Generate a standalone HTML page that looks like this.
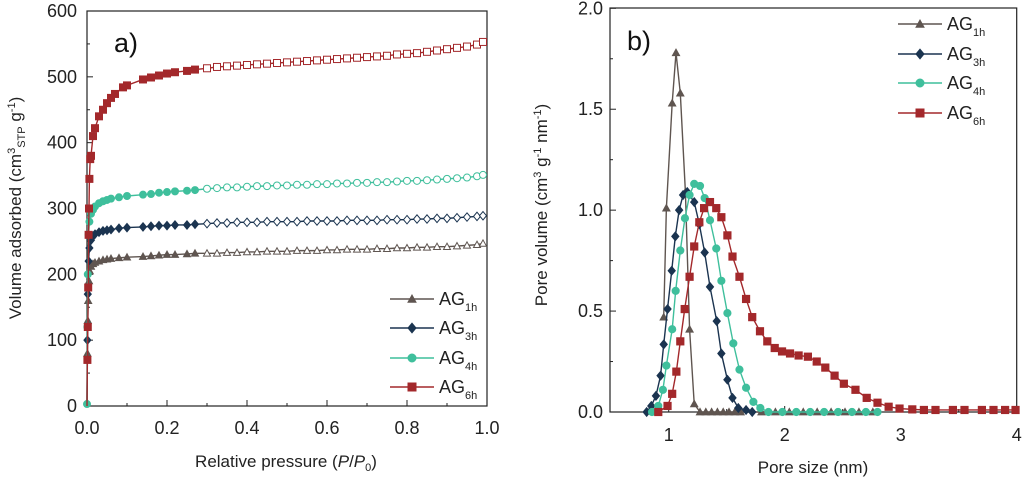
<!DOCTYPE html>
<html><head><meta charset="utf-8"><style>
html,body{margin:0;padding:0;background:#fff;}
svg{display:block;font-family:"Liberation Sans",sans-serif;}
</style></head><body>
<svg id="c" width="1024" height="479" viewBox="0 0 1024 479"></svg>
<script>
// ---- panel a data ----
const desP=[0.3,0.325,0.35,0.375,0.4,0.425,0.45,0.475,0.5,0.525,0.55,0.575,0.6,0.625,0.65,0.675,0.7,0.725,0.75,0.775,0.8,0.825,0.85,0.875,0.9,0.925,0.95,0.975,0.99];
const a1hAdsP=[0.001,0.002,0.003,0.005,0.007,0.01,0.015,0.02,0.03,0.04,0.05,0.06,0.08,0.1,0.14,0.16,0.18,0.2,0.22,0.25,0.27];
const a1hAdsV=[80,130,160,190,205,212,216,218,220,222,223,224,225,226,227,228,229,230,230,231,232];
const a1hDesV=[232,232,233,233,234,234,235,235,235,236,236,236,237,237,238,238,238,239,239,240,240,241,241,242,242,243,244,245,247];
const a3hAdsP=[0.001,0.002,0.004,0.006,0.01,0.015,0.02,0.03,0.04,0.05,0.06,0.08,0.1,0.14,0.16,0.18,0.2,0.22,0.25,0.27];
const a3hAdsV=[100,170,220,240,252,258,261,264,266,267,268,270,271,272,273,274,274,275,275,276];
const a3hDesV=[277,278,278,279,279,279,280,280,280,280,281,281,281,281,282,282,282,282,283,283,283,284,284,285,285,286,287,288,289];
const a4hAdsP=[0,0.001,0.002,0.004,0.006,0.01,0.015,0.02,0.03,0.04,0.05,0.06,0.08,0.1,0.14,0.16,0.18,0.2,0.22,0.25,0.27];
const a4hAdsV=[3,120,200,260,280,292,298,303,308,311,313,315,317,319,321,322,324,325,326,327,328];
const a4hDesV=[330,331,332,332,333,334,334,335,335,336,336,337,337,338,338,339,339,340,340,341,342,342,343,344,345,346,347,349,351];
const a6hAdsP=[0.001,0.002,0.003,0.004,0.005,0.006,0.008,0.01,0.015,0.02,0.03,0.04,0.05,0.06,0.07,0.09,0.1,0.14,0.16,0.18,0.2,0.22,0.25,0.27];
const a6hAdsV=[70,120,180,260,300,345,375,380,410,422,440,450,460,468,474,484,487,496,499,502,505,507,509,511];
const a6hDesV=[513,515,516,517,518,519,520,521,522,523,524,525,526,527,528,529,530,531,532,534,535,536,538,540,542,544,546,549,553];
const aXTicks=[0,0.2,0.4,0.6,0.8,1.0];
const aXLabels=["0.0","0.2","0.4","0.6","0.8","1.0"];
const aYTicks=[0,100,200,300,400,500,600];
// ---- panel b data ----
const b1hX=[0.957,0.98,1.03,1.063,1.10,1.144,1.18,1.22,1.27,1.32,1.37,1.42,1.47,1.52,1.57,1.62,1.8,1.92,2.04,2.16,2.28,2.4,2.52,2.64,2.76];
const b1hY=[0.47,1.01,1.53,1.78,1.58,1.09,0.41,0.04,0,0,0,0,0,0,0,0,0,0,0,0,0,0,0,0,0];
const b3hX=[0.81,0.85,0.89,0.93,0.957,0.99,1.026,1.057,1.09,1.124,1.16,1.22,1.264,1.31,1.356,1.414,1.454,1.506,1.55,1.60,1.667,1.72];
const b3hY=[0,0.03,0.08,0.18,0.335,0.51,0.70,0.87,1.00,1.075,1.09,1.04,0.93,0.79,0.62,0.45,0.29,0.16,0.07,0.02,0.01,0];
const b4hX=[0.856,0.91,0.95,0.98,1.03,1.06,1.10,1.14,1.18,1.22,1.27,1.31,1.356,1.41,1.454,1.506,1.557,1.61,1.667,1.73,1.79,1.86,1.98,2.1,2.22,2.34,2.46,2.58,2.7,2.8];
const b4hY=[0,0.03,0.11,0.23,0.41,0.60,0.80,0.96,1.075,1.13,1.12,1.06,0.95,0.81,0.65,0.49,0.34,0.21,0.12,0.05,0.02,0,0,0,0,0,0,0,0,0];
const b6hX=[0.91,0.99,1.03,1.066,1.10,1.138,1.18,1.22,1.264,1.305,1.356,1.41,1.454,1.506,1.55,1.61,1.667,1.72,1.787,1.85,1.914,1.977,2.046,2.12,2.2,2.276,2.35,2.43,2.51,2.61,2.707,2.8,2.896,2.99,3.1,3.2,3.3,3.45,3.55,3.7,3.8,3.9,3.99];
const b6hY=[0,0.03,0.09,0.20,0.35,0.51,0.67,0.82,0.94,1.01,1.04,1.01,0.965,0.875,0.77,0.67,0.56,0.47,0.40,0.35,0.317,0.30,0.29,0.28,0.274,0.25,0.22,0.18,0.14,0.11,0.07,0.046,0.026,0.017,0.013,0.01,0.01,0.01,0.01,0.01,0.01,0.01,0.01];
const bXTicks=[1,2,3,4];
const bYTicks=[0,0.5,1.0,1.5,2.0];
const bYLabels=["0.0","0.5","1.0","1.5","2.0"];
const C1="#5f5550",C3="#1b3450",C4="#3fbf9c",C6="#a3282b";

const NS="http://www.w3.org/2000/svg";
const svg=document.getElementById('c');
function el(tag,attrs,parent,text){const e=document.createElementNS(NS,tag);for(const k in attrs)e.setAttribute(k,attrs[k]);if(text!==undefined)e.textContent=text;(parent||svg).appendChild(e);return e;}

const ax=p=>87+p*400, ay=v=>406-v*(395/600);
const bx=d=>668.7+(d-1)*116, by=v=>412-v*(403.7/2);

function marker(g,shape,x,y,col,filled,s){
  const f=filled?col:"#fff"; let m;
  if(shape==="tri") m=el('polygon',{points:`${x},${y-s} ${x-s},${y+s*0.8} ${x+s},${y+s*0.8}`,fill:f,stroke:col,'stroke-width':1},g);
  else if(shape==="dia") m=el('polygon',{points:`${x},${y-s*1.2} ${x+s},${y} ${x},${y+s*1.2} ${x-s},${y}`,fill:f,stroke:col,'stroke-width':1},g);
  else if(shape==="cir") m=el('circle',{cx:x,cy:y,r:s,fill:f,stroke:col,'stroke-width':1},g);
  else m=el('rect',{x:x-s,y:y-s,width:2*s,height:2*s,fill:f,stroke:col,'stroke-width':1},g);
  
  
}

function frame(x0,y0,x1,y1,name){
  const r=el('rect',{x:x0,y:y0,width:x1-x0,height:y1-y0,fill:'none',stroke:'#222','stroke-width':1.2});
  
  
}

// ---------- Panel A ----------
frame(87,11,487,406,'plot-frame-a');
const gax=el('g',{});


aXTicks.forEach((t,i)=>{const x=ax(t);el('line',{x1:x,y1:406,x2:x,y2:400,stroke:'#222'},gax);
  if(i<aXTicks.length-1) el('line',{x1:ax(t+0.1),y1:406,x2:ax(t+0.1),y2:403,stroke:'#222'},gax);
  el('text',{x:x,y:434,'text-anchor':'middle','font-size':18,fill:'#222'},gax,aXLabels[i]);});
const gay=el('g',{});


aYTicks.forEach((t,i)=>{const y=ay(t);el('line',{x1:87,y1:y,x2:93,y2:y,stroke:'#222'},gay);
  if(i<aYTicks.length-1) el('line',{x1:87,y1:ay(t+50),x2:90,y2:ay(t+50),stroke:'#222'},gay);
  el('text',{x:77,y:y+6,'text-anchor':'end','font-size':18,fill:'#222'},gay,String(t));});
let t=el('text',{x:286,y:467,'text-anchor':'middle','font-size':17,fill:'#222'});
t.innerHTML='Relative pressure (<tspan font-style="italic">P</tspan>/<tspan font-style="italic">P</tspan><tspan font-size="11" dy="4">0</tspan><tspan dy="-4">)</tspan>';

t=el('text',{transform:'translate(21,208) rotate(-90)','text-anchor':'middle','font-size':17,fill:'#222'});
t.innerHTML='Volume adsorbed (cm<tspan font-size="11" dy="-6">3</tspan><tspan font-size="11" dy="10">STP</tspan><tspan dy="-4"> g</tspan><tspan font-size="11" dy="-6">-1</tspan><tspan dy="6">)</tspan>';

t=el('text',{x:114,y:52,'font-size':27,fill:'#111'},svg,'a)');


const aSeries=[[a1hAdsP,a1hAdsV,a1hDesV,C1,'tri','series-ag1h-a'],[a3hAdsP,a3hAdsV,a3hDesV,C3,'dia','series-ag3h-a'],[a4hAdsP,a4hAdsV,a4hDesV,C4,'cir','series-ag4h-a'],[a6hAdsP,a6hAdsV,a6hDesV,C6,'sq','series-ag6h-a']];
aSeries.forEach(([P,V,D,col,sh,name])=>{
  const g=el('g',{});
  
  
  const pts=[[ax(0),ay(0)]].concat(P.map((p,i)=>[ax(p),ay(V[i])]),desP.map((p,i)=>[ax(p),ay(D[i])]));
  el('polyline',{points:pts.map(q=>q.join(',')).join(' '),fill:'none',stroke:col,'stroke-width':1.4},g);
  P.forEach((p,i)=>marker(g,sh,ax(p),ay(V[i]),col,true,3.5));
  desP.forEach((p,i)=>marker(g,sh,ax(p),ay(D[i]),col,false,3.5));
});
const la=[['AG','1h',C1,'tri'],['AG','3h',C3,'dia'],['AG','4h',C4,'cir'],['AG','6h',C6,'sq']];
function legend(items,x0,x1,tx,ys,prefix){
  items.forEach((it,i)=>{const g=el('g',{});
    
    
    el('line',{x1:x0,y1:ys[i],x2:x1,y2:ys[i],stroke:it[2],'stroke-width':1.6},g);
    marker(g,it[3],(x0+x1)/2,ys[i],it[2],true,4);
    const tt=el('text',{x:tx,y:ys[i]+6,'font-size':18,fill:'#222'},g);
    tt.innerHTML=it[0]+'<tspan font-size="11" dy="6">'+it[1]+'</tspan>';});
}
legend(la,390,434,439,[299,328,358,387],'legend-a');

// ---------- Panel B ----------
frame(610,8,1016.7,412,'plot-frame-b');
const gbx=el('g',{});


bXTicks.forEach(v=>{const x=bx(v);el('line',{x1:x,y1:412,x2:x,y2:406,stroke:'#222'},gbx);
  if(v<4) el('line',{x1:bx(v+0.5),y1:412,x2:bx(v+0.5),y2:409,stroke:'#222'},gbx);
  el('text',{x:x,y:441,'text-anchor':'middle','font-size':18,fill:'#222'},gbx,String(v));});
const gby=el('g',{});


bYTicks.forEach((v,i)=>{const y=by(v);el('line',{x1:610,y1:y,x2:616,y2:y,stroke:'#222'},gby);
  if(i<bYTicks.length-1) el('line',{x1:610,y1:by(v+0.25),x2:613,y2:by(v+0.25),stroke:'#222'},gby);
  el('text',{x:603,y:y+6,'text-anchor':'end','font-size':18,fill:'#222'},gby,bYLabels[i]);});
t=el('text',{x:813,y:473,'text-anchor':'middle','font-size':17,fill:'#222'},svg,'Pore size (nm)');

t=el('text',{transform:'translate(547,205) rotate(-90)','text-anchor':'middle','font-size':17,fill:'#222'});
t.innerHTML='Pore volume (cm<tspan font-size="11" dy="-6">3</tspan><tspan dy="6"> g</tspan><tspan font-size="11" dy="-6">-1</tspan><tspan dy="6"> nm</tspan><tspan font-size="11" dy="-6">-1</tspan><tspan dy="6">)</tspan>';

t=el('text',{x:627,y:50,'font-size':27,fill:'#111'},svg,'b)');


const bSeries=[[b1hX,b1hY,C1,'tri','series-ag1h-b'],[b3hX,b3hY,C3,'dia','series-ag3h-b'],[b4hX,b4hY,C4,'cir','series-ag4h-b'],[b6hX,b6hY,C6,'sq','series-ag6h-b']];
bSeries.forEach(([X,Y,col,sh,name])=>{
  const g=el('g',{});
  
  
  el('polyline',{points:X.map((x,i)=>bx(x)+','+by(Y[i])).join(' '),fill:'none',stroke:col,'stroke-width':1.4},g);
  X.forEach((x,i)=>marker(g,sh,bx(x),by(Y[i]),col,true,3.6));
});
legend(la,898,942,947,[24,54,83,113],'legend-b');
</script>
</body></html>
